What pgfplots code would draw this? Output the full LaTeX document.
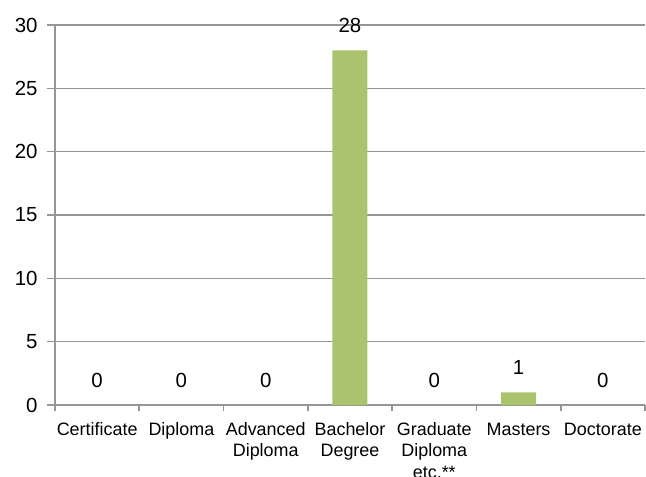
\documentclass[border=0pt]{standalone}
\usepackage{pgfplots}
\pgfplotsset{compat=1.18}
\usepackage{fontspec}
\setmainfont{Liberation Sans}
\definecolor{bargreen}{HTML}{A9C46C}
\definecolor{gridgrey}{HTML}{959595}
\begin{document}
\begin{tikzpicture}
\path[use as bounding box] (-55bp,-72bp) rectangle (591bp,405bp);
\begin{axis}[
  at={(0,0)}, anchor=south west,
  scale only axis, width=590bp, height=380bp,
  xmin=-0.5, xmax=6.5, ymin=0, ymax=30,
  axis x line*=bottom, axis y line*=left,
  axis line style={gridgrey, line width=1.6bp},
  ytick={0,5,...,30},
  ymajorgrids, grid style={gridgrey, line width=1.6bp},
  xtick={0,...,6},
  xticklabels={\strut Certificate, \strut Diploma, {\strut Advanced\\Diploma}, {\strut Bachelor\\Degree}, {\strut Graduate\\Diploma\\etc.**}, \strut Masters, \strut Doctorate},
  xticklabel style={align=center, font=\fontsize{18}{21.5}\selectfont, anchor=north, yshift=-4bp},
  yticklabel style={font=\fontsize{20.5}{22}\selectfont, xshift=-6bp},
  major x tick style={draw=none},
  minor xtick={-0.5,0.5,...,6.5},
  minor x tick style={gridgrey, line width=1.6bp},
  minor tick length=6bp,
  major y tick style={gridgrey, line width=1.6bp},
  major tick length=8bp,
  tick align=outside,
  /pgf/number format/assume math mode=true,
  ybar, bar width=35bp,
  nodes near coords,
  every node near coord/.append style={anchor=center, yshift=25bp, font=\fontsize{20.5}{22}\selectfont, text=black},
  clip=false,
]
\addplot[fill=bargreen, draw=none] coordinates {(0,0) (1,0) (2,0) (3,28) (4,0) (5,1) (6,0)};
\end{axis}
\end{tikzpicture}
\end{document}
